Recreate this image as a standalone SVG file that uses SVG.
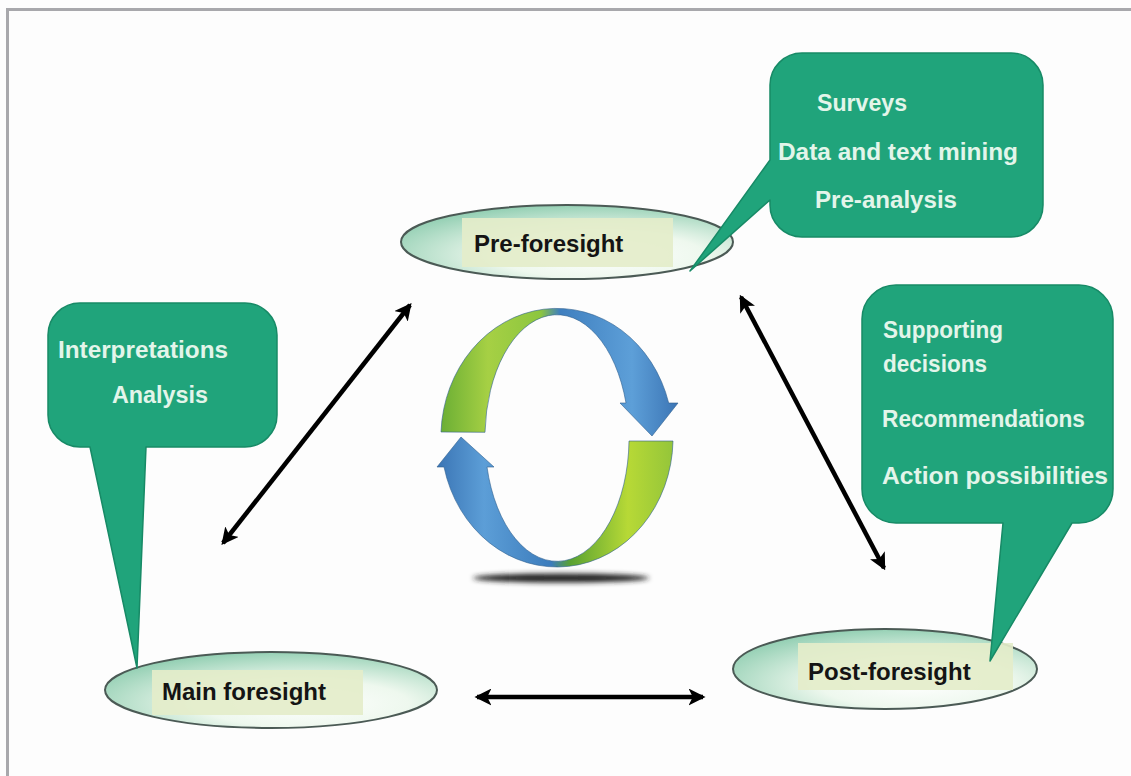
<svg xmlns="http://www.w3.org/2000/svg" width="1131" height="776" viewBox="0 0 1131 776">
  <defs>
    <style>
      .frame { fill: none; stroke: #a8a8ac; stroke-width: 3; }
      .phase { stroke: #4b5a55; stroke-width: 2; fill: url(#phaseFill); }
      .tag { fill: #e4edca; opacity: 0.92; }
      .phase-label { font-family: "Liberation Sans", Arial, sans-serif; font-weight: bold; font-size: 24px; fill: #141414; }
      .bubble { fill: #20a47b; stroke: #178a66; stroke-width: 1.5; stroke-linejoin: round; }
      .bubble-text { font-family: "Liberation Sans", Arial, sans-serif; font-weight: bold; fill: #e3f5ea; }
      .link { fill: none; stroke: #000; stroke-width: 4.5; marker-start: url(#head); marker-end: url(#head); }
    </style>
    <radialGradient id="phaseFill" cx="0.6" cy="0.68" r="0.7">
      <stop offset="0" stop-color="#ffffff"/>
      <stop offset="0.45" stop-color="#eef8ee"/>
      <stop offset="1" stop-color="#93cfb3"/>
    </radialGradient>
    <marker id="head" viewBox="0 0 10 10" refX="8.5" refY="5" markerUnits="userSpaceOnUse" markerWidth="17" markerHeight="17" orient="auto-start-reverse">
      <path d="M0,0 L10,5 L0,10 L2.5,5 Z" fill="#000"/>
    </marker>
    <!-- ring segments of the cycle icon -->
    <linearGradient id="upperArc" gradientUnits="userSpaceOnUse" x1="440" y1="0" x2="680" y2="0">
      <stop offset="0" stop-color="#6aae34"/>
      <stop offset="0.2" stop-color="#a6d044"/>
      <stop offset="0.42" stop-color="#8cc63f"/>
      <stop offset="0.5" stop-color="#3f7fbf"/>
      <stop offset="0.8" stop-color="#5d9fd8"/>
      <stop offset="1" stop-color="#3a73b3"/>
    </linearGradient>
    <linearGradient id="lowerArc" gradientUnits="userSpaceOnUse" x1="436" y1="0" x2="676" y2="0">
      <stop offset="0" stop-color="#3a74b4"/>
      <stop offset="0.2" stop-color="#5c9ed7"/>
      <stop offset="0.48" stop-color="#3c7cbc"/>
      <stop offset="0.56" stop-color="#5aa232"/>
      <stop offset="0.8" stop-color="#b7d936"/>
      <stop offset="1" stop-color="#92c43a"/>
    </linearGradient>
    <filter id="soft" x="-20%" y="-200%" width="140%" height="500%">
      <feGaussianBlur stdDeviation="2.5"/>
    </filter>
  </defs>

  <rect width="1131" height="776" fill="#fdfdfd"/>
  <path class="frame" d="M7.5,776 V9.5 H1131"/>

  <!-- cycle icon -->
  <g id="cycle">
    <ellipse cx="561" cy="578" rx="88" ry="4.5" fill="#222" filter="url(#soft)"/>
    <path d="M441,432 A116,129 0 0 1 668.7,403 L678,403 L652,436 L620,403 L626,403 A72,123 0 0 0 485,432.3 Z" fill="url(#upperArc)" stroke="#2f5f8f" stroke-width="0.6"/>
    <path d="M673,441 A116,129 0 0 1 444,467 L437,467 L461,437 L494,467 L487,467 A72,123 0 0 0 629,441 Z" fill="url(#lowerArc)" stroke="#2f5f8f" stroke-width="0.6"/>
  </g>

  <!-- connectors -->
  <g id="connectors">
    <line class="link" x1="410" y1="305" x2="223" y2="543"/>
    <line class="link" x1="741" y1="297" x2="884" y2="568"/>
    <line class="link" x1="477" y1="697" x2="703" y2="697"/>
  </g>

  <!-- phase nodes -->
  <g id="pre-foresight">
    <ellipse class="phase" cx="567" cy="242" rx="166" ry="37"/>
    <rect class="tag" x="462" y="218" width="211" height="49"/>
    <text class="phase-label" x="474" y="252">Pre-foresight</text>
  </g>
  <g id="main-foresight">
    <ellipse class="phase" cx="271" cy="690" rx="166" ry="38"/>
    <rect class="tag" x="152" y="670" width="211" height="45"/>
    <text class="phase-label" x="162" y="700">Main foresight</text>
  </g>
  <g id="post-foresight">
    <ellipse class="phase" cx="885" cy="669" rx="152" ry="40"/>
    <rect class="tag" x="798" y="643" width="215" height="47"/>
    <text class="phase-label" x="808" y="680">Post-foresight</text>
  </g>

  <!-- activity callouts -->
  <g id="pre-activities">
    <path class="bubble" d="M802,53 H1011 A32,32 0 0 1 1043,85 V205 A32,32 0 0 1 1011,237 H802 A32,32 0 0 1 770,205 V200 L690,271 L770,160 V85 A32,32 0 0 1 802,53 Z"/>
    <text class="bubble-text" font-size="23" x="817" y="111" textLength="90" lengthAdjust="spacingAndGlyphs">Surveys</text>
    <text class="bubble-text" font-size="23" x="778" y="160" textLength="240" lengthAdjust="spacingAndGlyphs">Data and text mining</text>
    <text class="bubble-text" font-size="23" x="815" y="208" textLength="142" lengthAdjust="spacingAndGlyphs">Pre-analysis</text>
  </g>
  <g id="post-activities">
    <path class="bubble" d="M896,285 H1079 A34,34 0 0 1 1113,319 V489 A34,34 0 0 1 1079,523 H1072 L990,661 L1003,523 H896 A34,34 0 0 1 862,489 V319 A34,34 0 0 1 896,285 Z"/>
    <text class="bubble-text" font-size="24" x="883" y="338" textLength="120" lengthAdjust="spacingAndGlyphs">Supporting</text>
    <text class="bubble-text" font-size="24" x="883" y="372" textLength="104" lengthAdjust="spacingAndGlyphs">decisions</text>
    <text class="bubble-text" font-size="24" x="882" y="427" textLength="203" lengthAdjust="spacingAndGlyphs">Recommendations</text>
    <text class="bubble-text" font-size="24" x="882" y="484" textLength="226" lengthAdjust="spacingAndGlyphs">Action possibilities</text>
  </g>
  <g id="main-activities">
    <path class="bubble" d="M80,303 H245 A32,32 0 0 1 277,335 V415 A32,32 0 0 1 245,447 H146 L137,668 L90,447 H80 A32,32 0 0 1 48,415 V335 A32,32 0 0 1 80,303 Z"/>
    <text class="bubble-text" font-size="23" x="58" y="358" textLength="170" lengthAdjust="spacingAndGlyphs">Interpretations</text>
    <text class="bubble-text" font-size="23" x="112" y="403" textLength="96" lengthAdjust="spacingAndGlyphs">Analysis</text>
  </g>
</svg>
